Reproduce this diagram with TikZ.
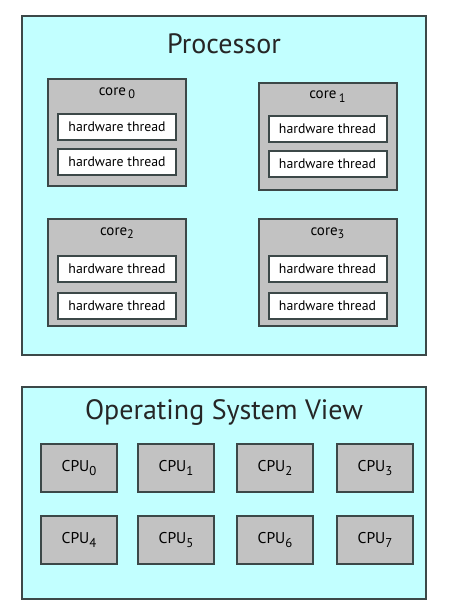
\documentclass[tikz,border=0pt]{standalone}
\usepackage{fontspec}
\setmainfont{PT Sans}
\usepackage{graphicx}
\usepackage{tikz}
\usetikzlibrary{positioning}

\definecolor{panelcyan}{HTML}{C2FFFF}
\definecolor{boxgray}{HTML}{C2C2C2}
\definecolor{edgegray}{HTML}{3C4848}

\newcommand{\lowidx}[1]{\raisebox{-0.5ex}{\scalebox{0.82}{#1}}}

\begin{document}
\begin{tikzpicture}[
    x=0.5pt, y=-0.5pt,
    panel/.style={rectangle, draw=edgegray, fill=panelcyan, line width=0.9pt, inner sep=0pt},
    corebox/.style={rectangle, draw=edgegray, fill=boxgray, line width=1pt, minimum width=69pt, minimum height=53.5pt, inner sep=0pt},
    threadbox/.style={rectangle, draw=edgegray, fill=white, line width=1pt, minimum width=59pt, minimum height=13pt, inner sep=0pt, font=\fontsize{6.9}{7}\selectfont},
    cpubox/.style={rectangle, draw=edgegray, fill=boxgray, line width=1pt, minimum width=38pt, minimum height=24pt, inner sep=0pt, font=\fontsize{7.8}{8}\selectfont},
    corelabel/.style={anchor=north, inner sep=0pt, font=\fontsize{7.5}{8}\selectfont},
    title/.style={inner sep=0pt, text=black!85, font=\fontsize{14}{16}\selectfont}
    ]
        \useasboundingbox (0,0) rectangle (454,616);

        %Processor
        \node[panel, minimum width=202pt, minimum height=169.5pt]
            (proc)   at (224,185.5)  {};
        \node[title]
            (ptitle) at (224,44)     {Processor};

        %Cores
        \node[corebox]
            (c0)     at (117,132.5)  {};
        \node[corebox]
            (c1)     at (327.5,136)  {};
        \node[corebox]
            (c2)     at (117,272.5)  {};
        \node[corebox]
            (c3)     at (327.5,272.5) {};

        \node[corelabel]
            (l0)     [below=4.5pt of c0.north]   {core\,\lowidx{0}};
        \node[corelabel]
            (l1)     [below=4.5pt of c1.north]   {core\,\lowidx{1}};
        \node[corelabel]
            (l2)     [below=4.5pt of c2.north]   {core\lowidx{2}};
        \node[corelabel]
            (l3)     [below=4.5pt of c3.north]   {core\lowidx{3}};

        %Threads
        \node[threadbox]
            (t0a)    [below=17.5pt of c0.north, anchor=north] {hardware thread};
        \node[threadbox]
            (t0b)    [below=3.5pt of t0a]       {hardware thread};
        \node[threadbox]
            (t1a)    [below=16.5pt of c1.north, anchor=north] {hardware thread};
        \node[threadbox]
            (t1b)    [below=3.5pt of t1a]       {hardware thread};
        \node[threadbox]
            (t2a)    [below=18.5pt of c2.north, anchor=north] {hardware thread};
        \node[threadbox]
            (t2b)    [below=4.5pt of t2a]       {hardware thread};
        \node[threadbox]
            (t3a)    [below=18.5pt of c3.north, anchor=north] {hardware thread};
        \node[threadbox]
            (t3b)    [below=4.5pt of t3a]       {hardware thread};

        %Operating system view
        \node[panel, minimum width=202pt, minimum height=106pt]
            (os)     at (224,493)    {};
        \node[title]
            (otitle) at (224,412)    {Operating System View};

        %CPUs
        \node[cpubox]
            (cpu0)   at (79,468)     {CPU\lowidx{0}};
        \node[cpubox]
            (cpu1)   [right=9.5pt of cpu0]  {CPU\lowidx{1}};
        \node[cpubox]
            (cpu2)   [right=10.5pt of cpu1] {CPU\lowidx{2}};
        \node[cpubox]
            (cpu3)   [right=11pt of cpu2]   {CPU\lowidx{3}};
        \node[cpubox]
            (cpu4)   [below=11pt of cpu0]   {CPU\lowidx{4}};
        \node[cpubox]
            (cpu5)   [right=9.5pt of cpu4]  {CPU\lowidx{5}};
        \node[cpubox]
            (cpu6)   [right=10.5pt of cpu5] {CPU\lowidx{6}};
        \node[cpubox]
            (cpu7)   [right=11pt of cpu6]   {CPU\lowidx{7}};
    \end{tikzpicture}
\end{document}
